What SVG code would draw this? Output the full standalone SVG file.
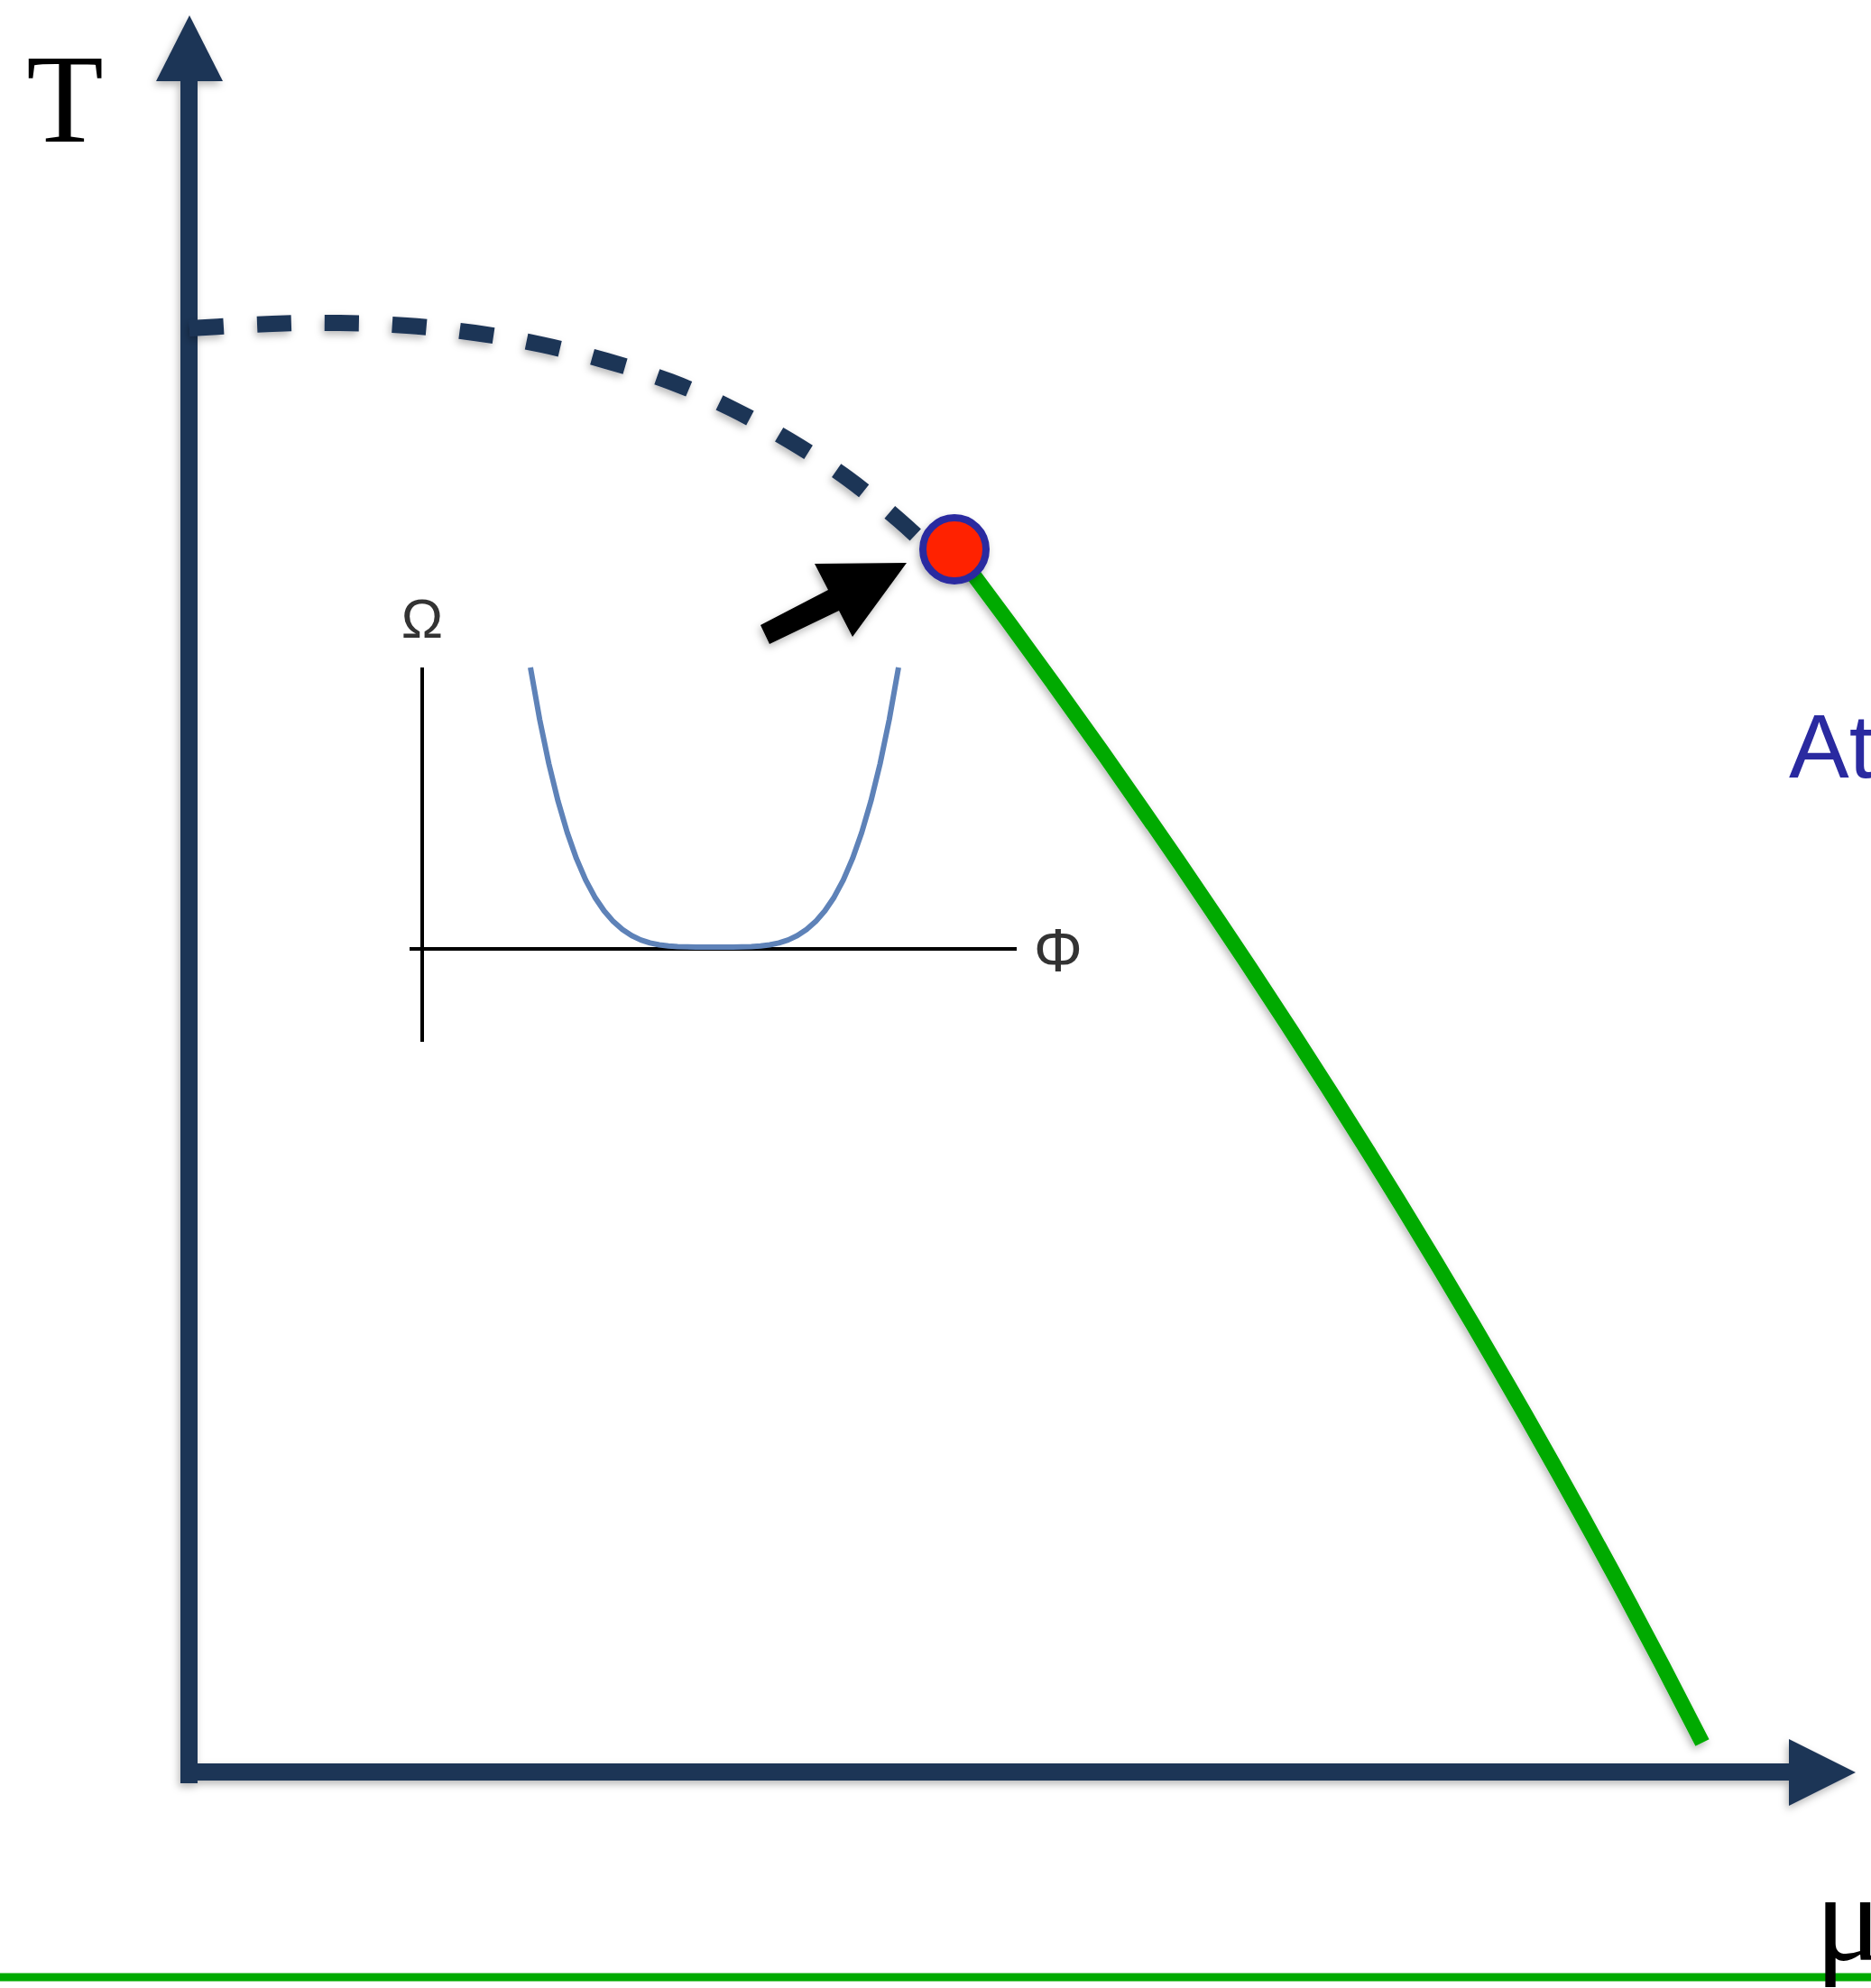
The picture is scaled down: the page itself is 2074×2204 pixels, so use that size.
<svg xmlns="http://www.w3.org/2000/svg" width="2074" height="2204" viewBox="0 0 2074 2204">
<defs>
<filter id="sh" filterUnits="userSpaceOnUse" x="0" y="0" width="2074" height="2204">
<feDropShadow dx="-2" dy="4" stdDeviation="4" flood-color="#000" flood-opacity="0.28"/>
</filter>
<style>
.navy{fill:#1f3557}
.serif{font-family:"Liberation Serif","Times New Roman",serif;fill:#000}
.sans{font-family:"Liberation Sans",Arial,sans-serif}
.inax{stroke:#000;stroke-width:4;fill:none}
</style>
</defs>
<rect width="2074" height="2204" fill="#fff"/>
<g id="bottom-line">
<line x1="0" y1="2192" x2="2074" y2="2192" stroke="#00aa00" stroke-width="9"/>
</g>
<g id="axes" filter="url(#sh)">
<rect class="navy" x="200" y="88" width="19" height="1889"/>
<polygon class="navy" points="173,90 210,17 247,90"/>
<rect class="navy" x="207" y="1955" width="1778" height="19"/>
<polygon class="navy" points="1983,1928 2057,1965 1983,2002"/>
</g>
<g id="connectors">
<path id="crossover" filter="url(#sh)" fill="none" stroke="#1f3557" stroke-width="18" stroke-dasharray="38 37" d="M210,364 C240.7,362.3 274.2,360 302,359 C329.8,358 352.2,357.7 377,358 C401.8,358.3 426.2,359.2 451,361 C475.8,362.8 501.2,365.5 526,369 C550.8,372.5 575.7,376.8 600,382 C624.3,387.2 648.2,393.2 672,400 C695.8,406.8 719.8,414.2 743,423 C766.2,431.8 788.8,442 811,453 C833.2,464 854.7,476.2 876,489 C897.3,501.8 918.8,515.3 939,530 C959.2,544.7 980.2,562.5 997,577 C1013.8,591.5 1025.7,603.7 1040,617"/>
<path id="first-order" filter="url(#sh)" fill="none" stroke="#00aa00" stroke-width="17" d="M1058,609 Q1540,1250 1887,1932"/>
</g>
<g id="critical-point" filter="url(#sh)">
<circle cx="1058" cy="609" r="35" fill="#ff2200" stroke="#2a2aa0" stroke-width="8"/>
</g>
<g id="pointer" filter="url(#sh)">
<polygon points="843,693 918,654 903,625 1005,624 945,706 930,677 853,714" fill="#000"/>
</g>
<g id="inset">
<line class="inax" x1="468" y1="740" x2="468" y2="1155"/>
<line class="inax" x1="454" y1="1052" x2="1127" y2="1052"/>
<polyline fill="none" stroke="#5e82b8" stroke-width="6" stroke-linejoin="round" points="588,740 598.2,797.5 608.4,846.6 618.6,888.2 628.8,923 639,951.9 649.2,975.6 659.4,994.7 669.6,1009.8 679.8,1021.6 690,1030.6 700.2,1037.3 710.4,1042.1 720.6,1045.4 730.8,1047.5 741,1048.8 751.2,1049.5 771.6,1050 792,1050 812.4,1050 832.8,1049.5 843,1048.8 853.2,1047.5 863.4,1045.4 873.6,1042.1 883.8,1037.3 894,1030.6 904.2,1021.6 914.4,1009.8 924.6,994.7 934.8,975.6 945,951.9 955.2,923 965.4,888.2 975.6,846.6 985.8,797.5 996,740"/>
<text class="sans" x="468" y="707" font-size="62" fill="#333" text-anchor="middle">Ω</text>
<text class="sans" x="1173" y="1077" font-size="68" fill="#333" text-anchor="middle">Φ</text>
</g>
<g id="labels">
<text class="serif" x="72" y="157" font-size="140" text-anchor="middle">T</text>
<text class="sans" x="1983" y="862" font-size="100" fill="#2a2aa0">At</text>
<text class="serif" x="2012" y="2173" font-size="140">μ</text>
</g>
</svg>
